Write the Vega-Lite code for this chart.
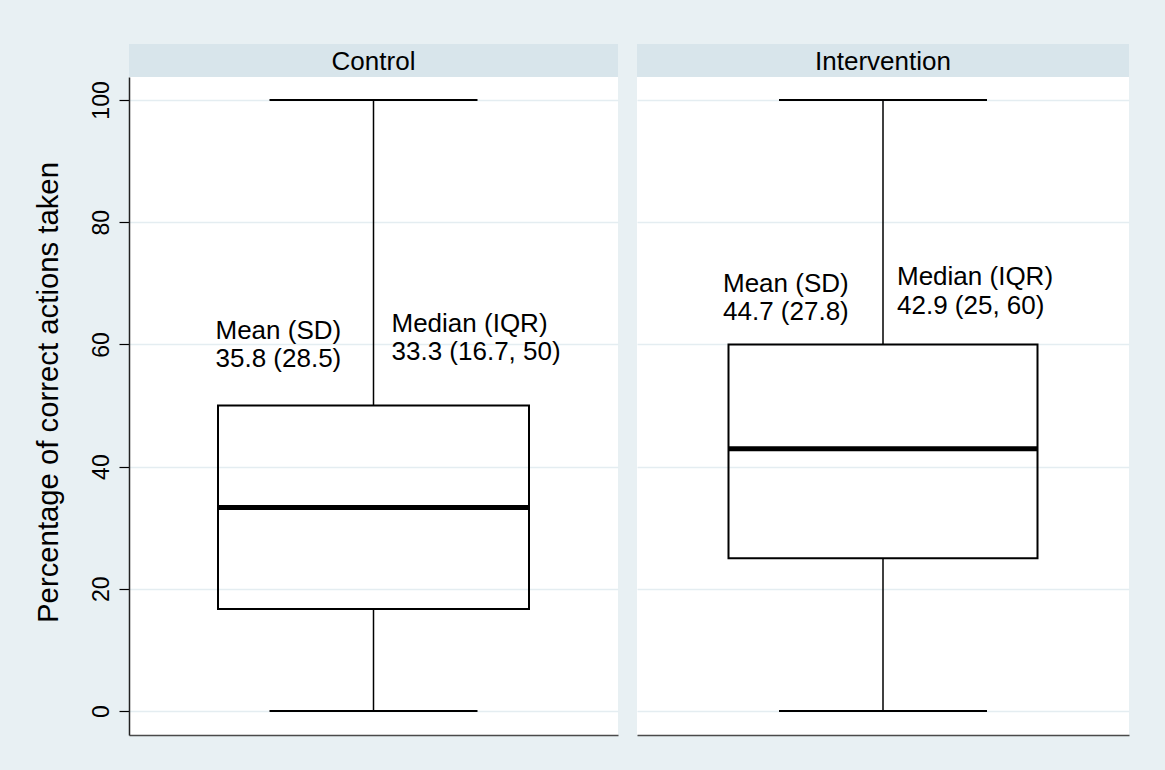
{
  "$schema": "https://vega.github.io/schema/vega-lite/v6.json",
  "background": "#E8F0F3",
  "padding": {"left": 33, "top": 44, "right": 37, "bottom": 35},
  "datasets": {
    "stats": [
      {"group": "Control", "min": 0, "q1": 16.7, "median": 33.3, "q3": 50, "max": 100, "mean": 35.8, "sd": 28.5},
      {"group": "Intervention", "min": 0, "q1": 25, "median": 42.9, "q3": 60, "max": 100, "mean": 44.7, "sd": 27.8}
    ],
    "notes": [
      {"group": "Control", "stat": "mean", "y": 60.9, "label": ["Mean (SD)", "35.8 (28.5)"]},
      {"group": "Control", "stat": "median", "y": 62, "label": ["Median (IQR)", "33.3 (16.7, 50)"]},
      {"group": "Intervention", "stat": "mean", "y": 68.6, "label": ["Mean (SD)", "44.7 (27.8)"]},
      {"group": "Intervention", "stat": "median", "y": 69.7, "label": ["Median (IQR)", "42.9 (25, 60)"]}
    ]
  },
  "spacing": 19,
  "hconcat": [
    {
      "spacing": 0,
      "vconcat": [
        {
          "width": 489, "height": 33,
          "view": {"fill": "#D8E5EB", "stroke": null},
          "data": {"name": "stats"},
          "transform": [{"filter": "datum.group === 'Control'"}],
          "mark": {"type": "text", "font": "Liberation Sans", "fontSize": 26, "baseline": "middle", "align": "center", "dy": 1, "color": "black"},
          "encoding": {"text": {"field": "group", "type": "nominal"}}
        },
        {
          "width": 489, "height": 658,
          "encoding": {
            "x": {
              "field": "group", "type": "nominal",
              "scale": {"type": "band", "paddingInner": 0, "paddingOuter": 0},
              "axis": {"labels": false, "ticks": false, "title": null, "domain": true, "domainColor": "#4a4a4a", "domainWidth": 1.5, "grid": false}
            }
          },
          "layer": [
            {
              "data": {"name": "stats"},
              "transform": [{"filter": "datum.group === 'Control'"}],
              "mark": {"type": "rule", "color": "black", "strokeWidth": 1.5},
              "encoding": {
                "y": {
                  "field": "min", "type": "quantitative",
                  "scale": {"domain": [-3.93, 103.76], "nice": false, "zero": false},
                  "axis": {
                    "values": [0, 20, 40, 60, 80, 100],
                    "title": "Percentage of correct actions taken",
                    "titleFont": "Liberation Sans", "titleFontSize": 29.3, "titleFontWeight": "normal", "titleColor": "black",
                    "titleAngle": 270, "titleBaseline": "alphabetic", "titleAlign": "center", "titleX": -72, "titleY": 315,
                    "labelFont": "Liberation Sans", "labelFontSize": 23, "labelColor": "black",
                    "labelAngle": 270, "labelAlign": "center", "labelBaseline": "alphabetic", "labelPadding": 11,
                    "labelOverlap": false, "labelFlush": false,
                    "tickSize": 10, "tickColor": "black", "tickWidth": 1.2,
                    "domainColor": "#222222", "domainWidth": 1.5,
                    "grid": true, "gridColor": "#E4EDF1", "gridWidth": 1.5
                  }
                },
                "y2": {"field": "q1"}
              }
            },
            {
              "data": {"name": "stats"},
              "transform": [{"filter": "datum.group === 'Control'"}],
              "mark": {"type": "rule", "color": "black", "strokeWidth": 1.5},
              "encoding": {"y": {"field": "q3", "type": "quantitative"}, "y2": {"field": "max"}}
            },
            {
              "data": {"name": "stats"},
              "transform": [{"filter": "datum.group === 'Control'"}],
              "mark": {"type": "bar", "filled": false, "stroke": "black", "strokeWidth": 2, "size": 311},
              "encoding": {"y": {"field": "q1", "type": "quantitative"}, "y2": {"field": "q3"}}
            },
            {
              "data": {"name": "stats"},
              "transform": [{"filter": "datum.group === 'Control'"}],
              "mark": {"type": "tick", "color": "black", "size": 311, "thickness": 5, "opacity": 1},
              "encoding": {"y": {"field": "median", "type": "quantitative"}}
            },
            {
              "data": {"name": "stats"},
              "transform": [{"filter": "datum.group === 'Control'"}],
              "mark": {"type": "tick", "color": "black", "size": 208, "thickness": 2, "opacity": 1},
              "encoding": {"y": {"field": "min", "type": "quantitative"}}
            },
            {
              "data": {"name": "stats"},
              "transform": [{"filter": "datum.group === 'Control'"}],
              "mark": {"type": "tick", "color": "black", "size": 208, "thickness": 2, "opacity": 1},
              "encoding": {"y": {"field": "max", "type": "quantitative"}}
            },
            {
              "data": {"name": "notes"},
              "transform": [{"filter": "datum.group === 'Control' && datum.stat === 'mean'"}],
              "mark": {"type": "text", "font": "Liberation Sans", "fontSize": 26, "align": "left", "baseline": "alphabetic", "lineHeight": 28, "dx": -158, "color": "black"},
              "encoding": {"y": {"field": "y", "type": "quantitative"}, "text": {"field": "label"}}
            },
            {
              "data": {"name": "notes"},
              "transform": [{"filter": "datum.group === 'Control' && datum.stat === 'median'"}],
              "mark": {"type": "text", "font": "Liberation Sans", "fontSize": 26, "align": "left", "baseline": "alphabetic", "lineHeight": 28, "dx": 18, "color": "black"},
              "encoding": {"y": {"field": "y", "type": "quantitative"}, "text": {"field": "label"}}
            }
          ]
        }
      ]
    },
    {
      "spacing": 0,
      "vconcat": [
        {
          "width": 492, "height": 33,
          "view": {"fill": "#D8E5EB", "stroke": null},
          "data": {"name": "stats"},
          "transform": [{"filter": "datum.group === 'Intervention'"}],
          "mark": {"type": "text", "font": "Liberation Sans", "fontSize": 26, "baseline": "middle", "align": "center", "dy": 1, "color": "black"},
          "encoding": {"text": {"field": "group", "type": "nominal"}}
        },
        {
          "width": 492, "height": 658,
          "encoding": {
            "x": {
              "field": "group", "type": "nominal",
              "scale": {"type": "band", "paddingInner": 0, "paddingOuter": 0},
              "axis": {"labels": false, "ticks": false, "title": null, "domain": true, "domainColor": "#4a4a4a", "domainWidth": 1.5, "grid": false}
            }
          },
          "layer": [
            {
              "data": {"name": "stats"},
              "transform": [{"filter": "datum.group === 'Intervention'"}],
              "mark": {"type": "rule", "color": "black", "strokeWidth": 1.5},
              "encoding": {
                "y": {
                  "field": "min", "type": "quantitative",
                  "scale": {"domain": [-3.93, 103.76], "nice": false, "zero": false},
                  "axis": {
                    "values": [0, 20, 40, 60, 80, 100],
                    "title": null, "labels": false, "ticks": false, "domain": false,
                    "grid": true, "gridColor": "#E4EDF1", "gridWidth": 1.5
                  }
                },
                "y2": {"field": "q1"}
              }
            },
            {
              "data": {"name": "stats"},
              "transform": [{"filter": "datum.group === 'Intervention'"}],
              "mark": {"type": "rule", "color": "black", "strokeWidth": 1.5},
              "encoding": {"y": {"field": "q3", "type": "quantitative"}, "y2": {"field": "max"}}
            },
            {
              "data": {"name": "stats"},
              "transform": [{"filter": "datum.group === 'Intervention'"}],
              "mark": {"type": "bar", "filled": false, "stroke": "black", "strokeWidth": 2, "size": 309},
              "encoding": {"y": {"field": "q1", "type": "quantitative"}, "y2": {"field": "q3"}}
            },
            {
              "data": {"name": "stats"},
              "transform": [{"filter": "datum.group === 'Intervention'"}],
              "mark": {"type": "tick", "color": "black", "size": 309, "thickness": 5, "opacity": 1},
              "encoding": {"y": {"field": "median", "type": "quantitative"}}
            },
            {
              "data": {"name": "stats"},
              "transform": [{"filter": "datum.group === 'Intervention'"}],
              "mark": {"type": "tick", "color": "black", "size": 208, "thickness": 2, "opacity": 1},
              "encoding": {"y": {"field": "min", "type": "quantitative"}}
            },
            {
              "data": {"name": "stats"},
              "transform": [{"filter": "datum.group === 'Intervention'"}],
              "mark": {"type": "tick", "color": "black", "size": 208, "thickness": 2, "opacity": 1},
              "encoding": {"y": {"field": "max", "type": "quantitative"}}
            },
            {
              "data": {"name": "notes"},
              "transform": [{"filter": "datum.group === 'Intervention' && datum.stat === 'mean'"}],
              "mark": {"type": "text", "font": "Liberation Sans", "fontSize": 26, "align": "left", "baseline": "alphabetic", "lineHeight": 28, "dx": -160, "color": "black"},
              "encoding": {"y": {"field": "y", "type": "quantitative"}, "text": {"field": "label"}}
            },
            {
              "data": {"name": "notes"},
              "transform": [{"filter": "datum.group === 'Intervention' && datum.stat === 'median'"}],
              "mark": {"type": "text", "font": "Liberation Sans", "fontSize": 26, "align": "left", "baseline": "alphabetic", "lineHeight": 29, "dx": 14, "color": "black"},
              "encoding": {"y": {"field": "y", "type": "quantitative"}, "text": {"field": "label"}}
            }
          ]
        }
      ]
    }
  ],
  "config": {
    "view": {"stroke": null, "fill": "white"},
    "font": "Liberation Sans",
    "axis": {"labelColor": "black", "titleColor": "black"}
  }
}
